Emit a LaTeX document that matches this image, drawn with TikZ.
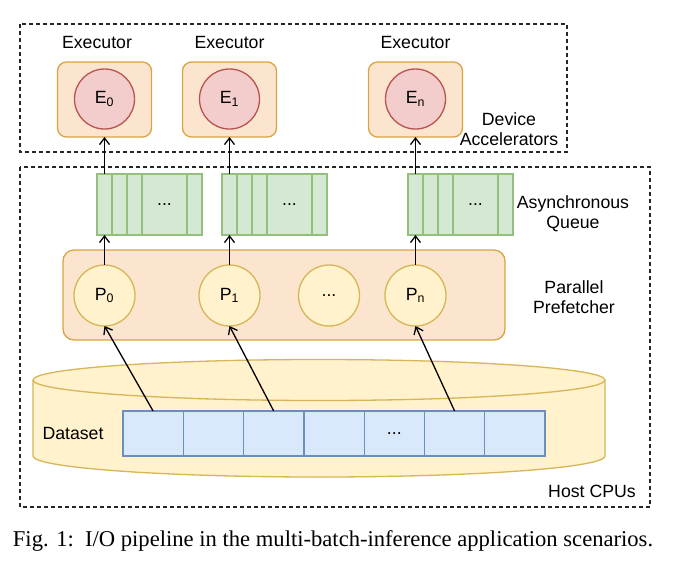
\documentclass[tikz,border=0pt]{standalone}
\usepackage{fontspec}
\setmainfont{Liberation Serif}
\newfontfamily\diagfont{Liberation Sans}
\usetikzlibrary{arrows.meta,positioning}
\definecolor{orfill}{HTML}{FBE5CF}
\definecolor{orline}{HTML}{D9A441}
\definecolor{redfill}{HTML}{F2CDCC}
\definecolor{redline}{HTML}{B85450}
\definecolor{grnfill}{HTML}{D5E8D4}
\definecolor{grnline}{HTML}{95BF7C}
\definecolor{ylwfill}{HTML}{FFF2CC}
\definecolor{ylwline}{HTML}{D6B656}
\definecolor{blufill}{HTML}{DAE8FC}
\definecolor{bluline}{HTML}{6C8EBF}

\begin{document}
\begin{tikzpicture}[x=1pt, y=1pt,
  every node/.style={inner sep=0pt, outer sep=0pt, font=\diagfont\fontsize{17.7}{20.5}\selectfont},
  frame/.style={draw=black!85, line width=1.1pt, dash pattern=on 4pt off 3pt},
  exbox/.style={draw=orline, fill=orfill, line width=1.3pt, rounded corners=9pt, minimum width=94pt, minimum height=75pt},
  exec/.style={circle, draw=redline, fill=redfill, line width=1.3pt, minimum size=60pt},
  qcell/.style={draw=grnline, fill=grnfill, line width=1.3pt, minimum width=15pt, minimum height=61pt, anchor=west},
  qwide/.style={qcell, minimum width=45pt},
  prefbox/.style={draw=orline, fill=orfill, line width=1.3pt, rounded corners=11pt, minimum width=442pt, minimum height=90pt},
  pref/.style={circle, draw=ylwline, fill=ylwfill, line width=1.3pt, minimum size=61pt},
  cyl/.style={draw=ylwline, fill=ylwfill, line width=1.3pt},
  dcell/.style={draw=bluline, fill=blufill, line width=1.3pt, minimum width=60.3pt, minimum height=45pt},
  flow/.style={-{Straight Barb[length=6.5pt,width=10pt]}, line width=1.3pt},
  lbl/.style={align=center}
]
\useasboundingbox (0,0) rectangle (674,-566);

% dashed groups
\draw[frame] (20,-24) rectangle (567,-152);
\draw[frame] (20,-167) rectangle (650,-507);

% executors
\node (exlbl0) at (97,-42) {Executor};
\node (exlbl1) at (229.5,-42) {Executor};
\node (exlbln) at (415.5,-42) {Executor};
\node[exbox] (e0box) at (104.5,-99.5) {};
\node[exbox] (e1box) at (229.5,-99.5) {};
\node[exbox] (enbox) at (415.5,-99.5) {};
\node[exec] (e0) at (104.5,-99) {E\textsubscript{0}};
\node[exec] (e1) at (229.5,-99) {E\textsubscript{1}};
\node[exec] (en) at (415.5,-99) {E\textsubscript{n}};
\node[lbl] (devlbl) at (509,-129.4) {Device\\Accelerators};

% queues
\node[qcell] (q0a) at (97,-204.5) {};
\node[qcell, right=0pt of q0a] (q0b) {};
\node[qcell, right=0pt of q0b] (q0c) {};
\node[qwide, right=0pt of q0c] (q0d) {...};
\node[qcell, right=0pt of q0d] (q0e) {};
\node[qcell] (q1a) at (222,-204.5) {};
\node[qcell, right=0pt of q1a] (q1b) {};
\node[qcell, right=0pt of q1b] (q1c) {};
\node[qwide, right=0pt of q1c] (q1d) {...};
\node[qcell, right=0pt of q1d] (q1e) {};
\node[qcell] (qna) at (408,-204.5) {};
\node[qcell, right=0pt of qna] (qnb) {};
\node[qcell, right=0pt of qnb] (qnc) {};
\node[qwide, right=0pt of qnc] (qnd) {...};
\node[qcell, right=0pt of qnd] (qne) {};
\node[lbl] (queuelbl) at (573,-214) {Asynchronous\\Queue};

% prefetcher
\node[prefbox] (prefetch) at (284,-295) {};
\node[pref] (p0) at (104.5,-295.5) {P\textsubscript{0}};
\node[pref] (p1) at (229.5,-295.5) {P\textsubscript{1}};
\node[pref] (pdots) at (329,-295.5) {...};
\node[pref] (pn) at (415.5,-295.5) {P\textsubscript{n}};
\node[lbl] (preflbl) at (574,-297) {Parallel\\Prefetcher};

% dataset
\draw[cyl] (33,-380) -- (33,-456) arc[start angle=180, end angle=360, x radius=286pt, y radius=21pt]
  -- (605,-380) arc[start angle=0, end angle=180, x radius=286pt, y radius=20.5pt] -- cycle;
\draw[cyl, fill=none] (33,-380) arc[start angle=180, end angle=360, x radius=286pt, y radius=20.5pt];
\node (datalbl) at (73,-433.7) {Dataset};
\node[dcell] (d1) at (153.1,-433.5) {};
\node[dcell, right=0pt of d1] (d2) {};
\node[dcell, right=0pt of d2] (d3) {};
\node[dcell, right=0pt of d3] (d4) {};
\node[dcell, right=0pt of d4] (d5) {...};
\node[dcell, right=0pt of d5] (d6) {};
\node[dcell, right=0pt of d6] (d7) {};
\node (hostlbl) at (592,-491) {Host CPUs};

% data flow
\draw[flow] (q0a.north) -- (e0box.south);
\draw[flow] (q1a.north) -- (e1box.south);
\draw[flow] (qna.north) -- (enbox.south);
\draw[flow] (p0.north) -- (q0a.south);
\draw[flow] (p1.north) -- (q1a.south);
\draw[flow] (pn.north) -- (qna.south);
\draw[flow] (d1.north) -- (p0.south);
\draw[flow] (d3.north) -- (p1.south);
\draw[flow] (d6.north) -- (pn.south);

\node[anchor=base, font=\rmfamily\fontsize{22.6}{26}\selectfont] (caption) at (333,-546)
  {Fig. 1:\ \ I/O pipeline in the multi-batch-inference application scenarios.};
\end{tikzpicture}
\end{document}
